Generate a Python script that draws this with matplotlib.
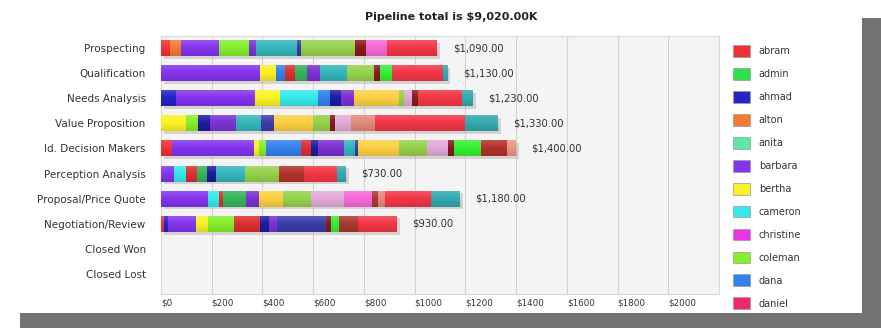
import numpy as np
import matplotlib
matplotlib.use('Agg')
from matplotlib import pyplot as plt
from matplotlib.patches import Rectangle, Patch
import matplotlib.patheffects as pe

# sales stages, top to bottom
stages = ['Prospecting', 'Qualification', 'Needs Analysis', 'Value Proposition',
          'Id. Decision Makers', 'Perception Analysis', 'Proposal/Price Quote',
          'Negotiation/Review', 'Closed Won', 'Closed Lost']

# opportunity owners (stack order) and their colours
owners = ['abram', 'admin', 'ahmad', 'alton', 'anita', 'barbara', 'bertha', 'cameron',
          'christine', 'coleman', 'dana', 'daniel', 'dean', 'debra', 'derek', 'diane',
          'donna', 'doug', 'edgar', 'elaine', 'eric', 'erin', 'frank', 'gary', 'george',
          'gina', 'gloria', 'grace', 'grant', 'greg', 'helen']
owner_colors = ['#ee3238', '#2ee04a', '#2424c8', '#f27a34', '#5ee8a4', '#8334ee', '#faf224',
                '#34eaea', '#ea34e6', '#86ee2c', '#3680ee', '#f02a68', '#dc3030', '#36b45a',
                '#1c1ca0', '#7a32d2', '#34b6ba', '#3c3ca8', '#fcd042', '#96d24c', '#7e1a1a',
                '#e2aad8', '#861c1c', '#34f034', '#f868d8', '#a83a30', '#e28a7a', '#b23228',
                '#ea9684', '#f23646', '#32aab0']

# amounts in $K per owner for each stage
prospecting = {'abram': 35, 'alton': 45, 'barbara': 150, 'coleman': 115, 'diane': 30,
               'donna': 160, 'doug': 15, 'elaine': 215, 'frank': 45, 'george': 80, 'greg': 200}
qualification = {'barbara': 390, 'bertha': 65, 'dana': 35, 'dean': 40, 'debra': 45, 'diane': 50,
                 'donna': 110, 'elaine': 105, 'frank': 25, 'gary': 45, 'greg': 200, 'helen': 20}
needs_analysis = {'ahmad': 60, 'barbara': 310, 'bertha': 100, 'cameron': 150, 'dana': 45,
                  'derek': 45, 'diane': 50, 'edgar': 180, 'elaine': 20, 'erin': 30, 'frank': 25,
                  'greg': 170, 'helen': 45}
value_proposition = {'bertha': 100, 'coleman': 45, 'derek': 50, 'diane': 100, 'donna': 100,
                     'doug': 50, 'edgar': 155, 'elaine': 65, 'eric': 20, 'erin': 65,
                     'gloria': 95, 'greg': 355, 'helen': 130}
decision_makers = {'abram': 45, 'barbara': 320, 'bertha': 20, 'coleman': 30, 'dana': 135,
                   'dean': 40, 'derek': 30, 'diane': 100, 'donna': 45, 'doug': 12, 'edgar': 160,
                   'elaine': 110, 'erin': 85, 'frank': 25, 'gary': 105, 'grace': 103, 'grant': 35}
perception_analysis = {'barbara': 50, 'cameron': 50, 'dean': 40, 'debra': 40, 'derek': 35,
                       'donna': 115, 'elaine': 135, 'grace': 100, 'greg': 130, 'helen': 35}
proposal_quote = {'barbara': 185, 'cameron': 45, 'dean': 15, 'debra': 90, 'diane': 50,
                  'edgar': 95, 'elaine': 110, 'erin': 130, 'george': 110, 'gina': 25,
                  'gloria': 30, 'greg': 180, 'helen': 115}
negotiation_review = {'abram': 12, 'ahmad': 15, 'barbara': 110, 'bertha': 50, 'coleman': 100,
                      'dean': 105, 'derek': 35, 'diane': 30, 'doug': 195, 'frank': 20,
                      'gary': 30, 'gina': 75, 'greg': 153}
closed_won = {}
closed_lost = {}

stage_amounts = [prospecting, qualification, needs_analysis, value_proposition,
                 decision_makers, perception_analysis, proposal_quote,
                 negotiation_review, closed_won, closed_lost]

x_ticks = [0, 200, 400, 600, 800, 1000, 1200, 1400, 1600, 1800, 2000]
legend_shown = 12

amounts = np.array([[d.get(o, 0) for o in owners] for d in stage_amounts], dtype=float)
totals = amounts.sum(axis=1)

W, H = 881, 328
fig = plt.figure(figsize=(W / 100, H / 100), dpi=100)
fig.patch.set_facecolor('white')

# drop shadow behind the white panel
fig.patches.append(Rectangle((862 / W, 0), 19 / W, 310 / H, transform=fig.transFigure,
                             facecolor='#727272', edgecolor='none', zorder=0))
fig.patches.append(Rectangle((20 / W, 0), 861 / W, 15 / H, transform=fig.transFigure,
                             facecolor='#727272', edgecolor='none', zorder=0))

ax = fig.add_axes([161 / W, 1 - 294 / H, 558 / W, 258 / H])
ax.set_facecolor('#f4f4f4')

y = np.arange(len(stages))
bar_h = 0.64

# soft shadow under each bar
ax.barh(y, totals, height=bar_h, color='#e8dcdc', zorder=2,
        path_effects=[pe.SimplePatchShadow(offset=(2, -2), shadow_rgbFace='#b8a8a8', alpha=0.45),
                      pe.Normal()])

left = np.zeros(len(stages))
for j, name in enumerate(owners):
    vals = amounts[:, j]
    ax.barh(y, vals, left=left, height=bar_h, color=owner_colors[j], edgecolor='none', zorder=3)
    left += vals

# glossy highlight on the bars
n = 40
t = np.linspace(0, 1, n)
grad = np.zeros((n, 1, 4))
grad[:, 0, :3] = np.where(t[:, None] < 0.5, 1.0, 0.0)
grad[:, 0, 3] = np.where(t < 0.5, 0.18 * (1 - t / 0.5), 0.12 * (t - 0.5) / 0.5)
for i, tot in enumerate(totals):
    if tot > 0:
        ax.imshow(grad, extent=(0, tot, i + bar_h / 2, i - bar_h / 2), aspect='auto',
                  interpolation='bilinear', zorder=4)

for i, tot in enumerate(totals):
    if tot > 0:
        ax.text(tot + 60, i, '${:,.2f}'.format(tot), va='center', ha='left',
                fontsize=7.2, color='#303030', zorder=5)

ax.set_xlim(0, 2200)
ax.set_ylim(9.8, -0.48)
ax.set_yticks(y)
ax.set_yticklabels(stages, fontsize=7.5, color='#333333')
ax.set_xticks(x_ticks)
ax.set_xticklabels(['${}'.format(v) for v in x_ticks], fontsize=6.3, color='#333333')
for lbl in ax.get_xticklabels():
    lbl.set_ha('left')
ax.tick_params(axis='y', length=0, pad=11)
ax.tick_params(axis='x', length=0, pad=3)
ax.set_axisbelow(True)
ax.xaxis.grid(True, color='#d2d2d2', linewidth=0.8)
for s in ax.spines.values():
    s.set_color('#d8d8d8')
    s.set_linewidth(0.8)

fig.text(451 / W, 1 - 17 / H, 'Pipeline total is ${:,.2f}K'.format(totals.sum()),
         ha='center', va='center', fontsize=8, fontweight='bold', color='#222222')

handles = [Patch(facecolor=owner_colors[j], edgecolor='#999999', linewidth=0.5, label=owners[j])
           for j in range(legend_shown)]
fig.legend(handles=handles, loc='upper left', bbox_to_anchor=(733 / W, 1 - 45 / H),
           frameon=False, fontsize=7, handlelength=1.75, handleheight=1.5,
           labelspacing=1.14, handletextpad=0.9, borderpad=0, borderaxespad=0,
           labelcolor='#333333')

fig.savefig('out.png', dpi=100, facecolor='white')
